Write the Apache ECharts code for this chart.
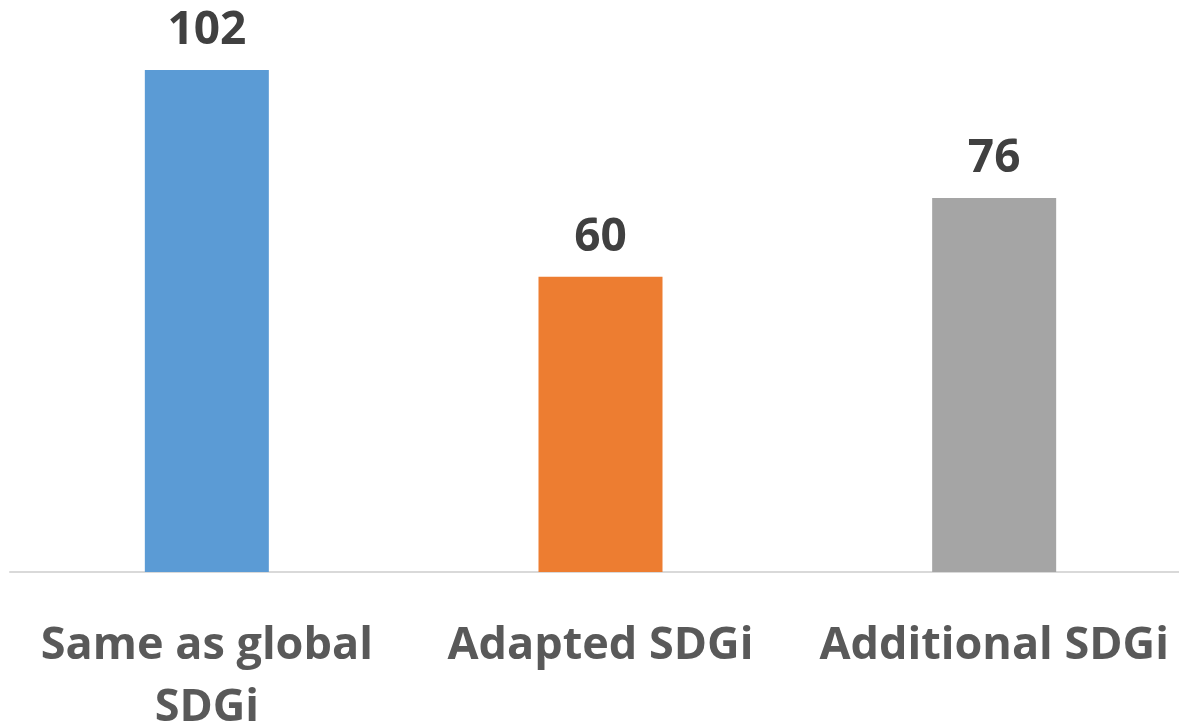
<!DOCTYPE html>
<html>
<head>
<meta charset="utf-8">
<script src="https://cdn.jsdelivr.net/npm/echarts@6/dist/echarts.min.js"></script>
<style>
html,body{margin:0;padding:0;background:#fff;}
#chart{width:1179px;height:726px;}
</style>
</head>
<body>
<div id="chart"></div>
<script>
const categories = ["Same as global\nSDGi", "Adapted SDGi", "Additional SDGi"];
const values = [102, 60, 76];
const barColors = ["#5B9BD5", "#ED7D31", "#A5A5A5"];

const chart = echarts.init(document.getElementById('chart'));
chart.setOption({
  animation: false,
  grid: { left: 10, top: 70, width: 1181, height: 502, containLabel: false, outerBoundsMode: 'none' },
  xAxis: {
    type: 'category',
    data: categories,
    axisLine: { lineStyle: { color: '#D9D9D9', width: 2 } },
    axisTick: { show: false },
    axisLabel: {
      margin: 43,
      fontFamily: 'Open Sans',
      fontWeight: 'bold',
      fontSize: 45,
      lineHeight: 62,
      color: '#595959',
      interval: 0,
      verticalAlign: 'top'
    }
  },
  yAxis: {
    type: 'value',
    min: 0,
    max: 102,
    show: false,
    splitLine: { show: false }
  },
  series: [{
    type: 'bar',
    data: values.map((v, i) => ({ value: v, itemStyle: { color: barColors[i] } })),
    barWidth: 124,
    label: {
      show: true,
      position: 'top',
      distance: 16,
      fontFamily: 'Open Sans',
      fontWeight: 'bold',
      fontSize: 46,
      color: '#404040'
    }
  }]
});
</script>
</body>
</html>
